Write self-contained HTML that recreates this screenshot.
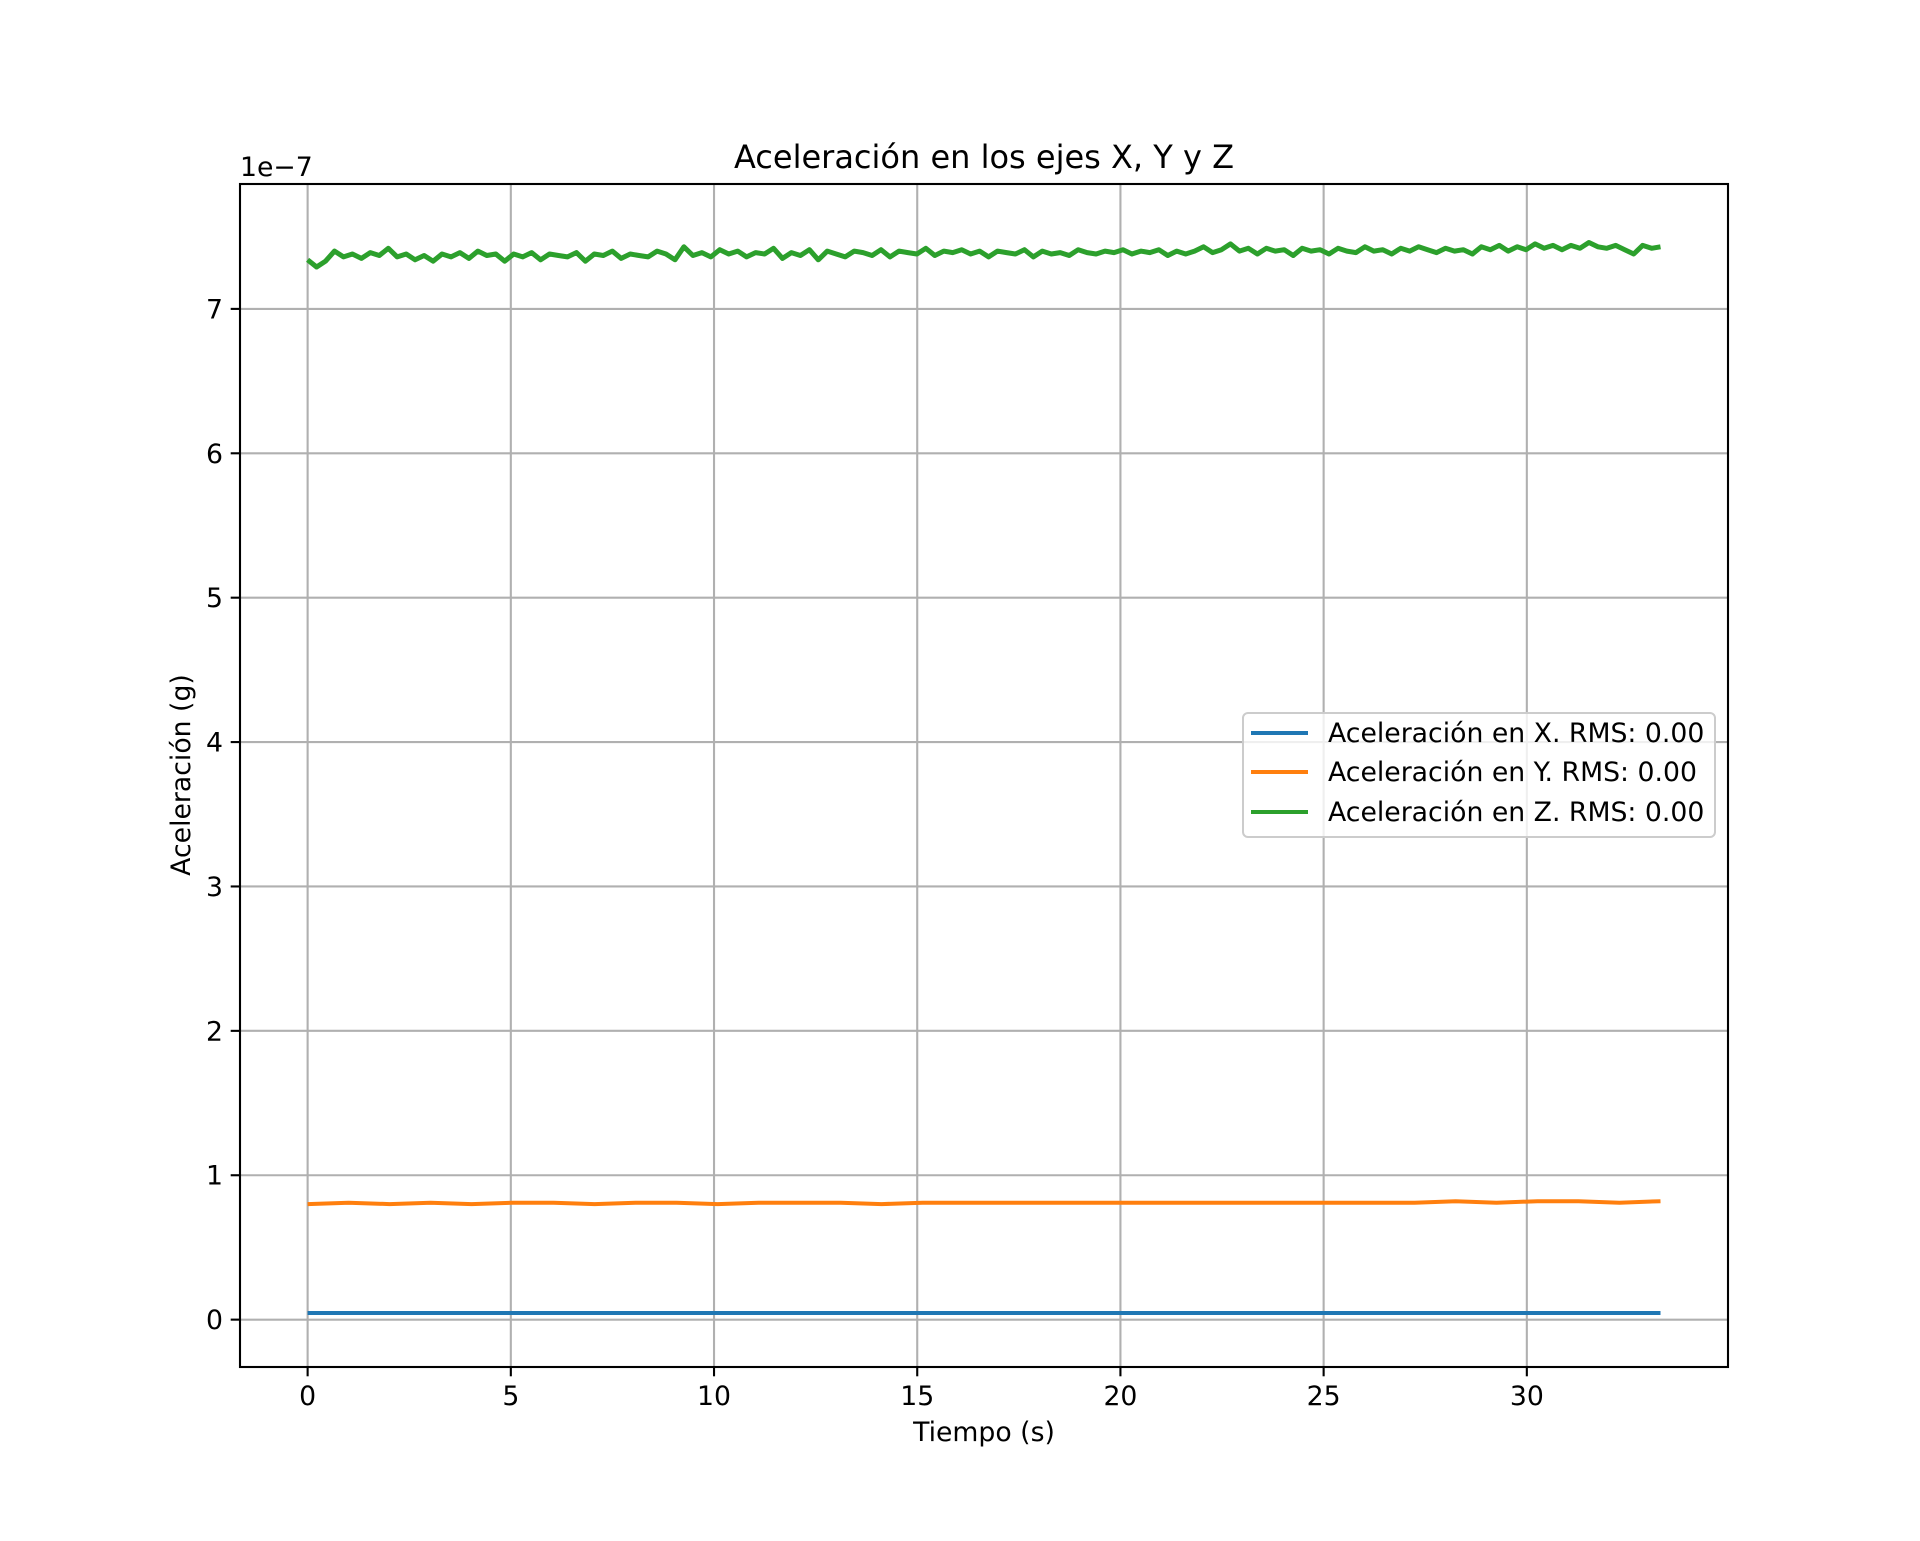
<!DOCTYPE html>
<html><head><meta charset="utf-8"><style>
html,body{margin:0;padding:0;background:#fff;}
svg text{font-family:"DejaVu Sans","Liberation Sans",sans-serif;fill:#000;}
</style></head><body>
<svg id="chart" width="1920" height="1536" viewBox="0 0 1920 1536" xmlns="http://www.w3.org/2000/svg">
<rect width="1920" height="1536" fill="#fff"/>
<g id="grid"></g>
<g id="series"></g>
<rect x="240" y="184" width="1488" height="1183" fill="none" stroke="#000" stroke-width="2.1"/>
<g id="ticks"></g>
<text x="984" y="168" font-size="32" text-anchor="middle">Aceleración en los ejes X, Y y Z</text>
<text x="984" y="1441" font-size="26.7" text-anchor="middle">Tiempo (s)</text>
<text x="190" y="775" font-size="26.7" text-anchor="middle" transform="rotate(-90 190 775)">Aceleración (g)</text>
<text x="240" y="176" font-size="26.7">1e−7</text>
<g id="legend">
<rect x="1243" y="713" width="472" height="124" rx="5" fill="#fff" fill-opacity="0.8" stroke="#cccccc" stroke-width="2"/>
<line x1="1251" y1="733" x2="1308" y2="733" stroke="#1f77b4" stroke-width="4"/>
<text x="1328" y="742" font-size="26.7">Aceleración en X. RMS: 0.00</text>
<line x1="1251" y1="772" x2="1308" y2="772" stroke="#ff7f0e" stroke-width="4"/>
<text x="1328" y="781" font-size="26.7">Aceleración en Y. RMS: 0.00</text>
<line x1="1251" y1="812" x2="1308" y2="812" stroke="#2ca02c" stroke-width="4"/>
<text x="1328" y="821" font-size="26.7">Aceleración en Z. RMS: 0.00</text>
</g>
</svg>
<script>
const xTicks=[0,5,10,15,20,25,30];
const yTicks=[0,1,2,3,4,5,6,7];
const tEnd=33.29;
const accX=[0.046,0.046,0.046,0.046,0.046,0.046,0.046];
const accY=[0.80,0.81,0.80,0.81,0.80,0.81,0.81,0.80,0.81,0.81,0.80,0.81,0.81,0.81,0.80,0.81,0.81,0.81,0.81,0.81,0.81,0.81,0.81,0.81,0.81,0.81,0.81,0.81,0.82,0.81,0.82,0.82,0.81,0.82];
const accZ=[7.34,7.29,7.33,7.40,7.36,7.38,7.35,7.39,7.37,7.42,7.36,7.38,7.34,7.37,7.33,7.38,7.36,7.39,7.35,7.40,7.37,7.38,7.33,7.38,7.36,7.39,7.34,7.38,7.37,7.36,7.39,7.33,7.38,7.37,7.40,7.35,7.38,7.37,7.36,7.40,7.38,7.34,7.43,7.37,7.39,7.36,7.41,7.38,7.40,7.36,7.39,7.38,7.42,7.35,7.39,7.37,7.41,7.34,7.40,7.38,7.36,7.40,7.39,7.37,7.41,7.36,7.40,7.39,7.38,7.42,7.37,7.40,7.39,7.41,7.38,7.40,7.36,7.40,7.39,7.38,7.41,7.36,7.40,7.38,7.39,7.37,7.41,7.39,7.38,7.40,7.39,7.41,7.38,7.40,7.39,7.41,7.37,7.40,7.38,7.40,7.43,7.39,7.41,7.45,7.40,7.42,7.38,7.42,7.40,7.41,7.37,7.42,7.40,7.41,7.38,7.42,7.40,7.39,7.43,7.40,7.41,7.38,7.42,7.40,7.43,7.41,7.39,7.42,7.40,7.41,7.38,7.43,7.41,7.44,7.40,7.43,7.41,7.45,7.42,7.44,7.41,7.44,7.42,7.46,7.43,7.42,7.44,7.41,7.38,7.44,7.42,7.43];
const X0=240,X1=1728,Y0=184,Y1=1367,xmin=-1.664,xmax=34.95,ymin=-0.328,ymax=7.865;
const sx=v=>X0+(v-xmin)/(xmax-xmin)*(X1-X0);
const sy=v=>Y1-(v-ymin)/(ymax-ymin)*(Y1-Y0);
const NS='http://www.w3.org/2000/svg';
function mk(tag,attrs,parent){const e=document.createElementNS(NS,tag);for(const k in attrs)e.setAttribute(k,attrs[k]);parent.appendChild(e);return e;}
const grid=document.getElementById('grid'),ticks=document.getElementById('ticks'),series=document.getElementById('series');
xTicks.forEach(t=>{const x=sx(t);
 const g=mk('line',{x1:x,x2:x,y1:Y0,y2:Y1,stroke:'#b0b0b0','stroke-width':2.1},grid);
 
 
 const tk=mk('line',{x1:x,x2:x,y1:Y1,y2:Y1+9.3,stroke:'#000','stroke-width':2.1},ticks);
 
 
 const tx=mk('text',{x:x,y:Y1+38,'font-size':26.7,'text-anchor':'middle'},ticks);tx.textContent=t;
 
 
});
yTicks.forEach(t=>{const y=sy(t);
 const g=mk('line',{x1:X0,x2:X1,y1:y,y2:y,stroke:'#b0b0b0','stroke-width':2.1},grid);
 
 
 const tk=mk('line',{x1:X0-9.3,x2:X0,y1:y,y2:y,stroke:'#000','stroke-width':2.1},ticks);
 
 
 const tx=mk('text',{x:X0-17,y:y+9.5,'font-size':26.7,'text-anchor':'end'},ticks);tx.textContent=t;
 
 
});
function drawSeries(arr,color,name,w){
 const n=arr.length;const pts=arr.map((v,i)=>sx(i*tEnd/(n-1)).toFixed(1)+','+sy(v).toFixed(1)).join(' ');
 const p=mk('polyline',{points:pts,fill:'none',stroke:color,'stroke-width':w,'stroke-linejoin':'round'},series);
 
 
}
drawSeries(accX,'#1f77b4','series-x-line',4);
drawSeries(accY,'#ff7f0e','series-y-line',4);
drawSeries(accZ,'#2ca02c','series-z-line',5);
</script>
</body></html>
